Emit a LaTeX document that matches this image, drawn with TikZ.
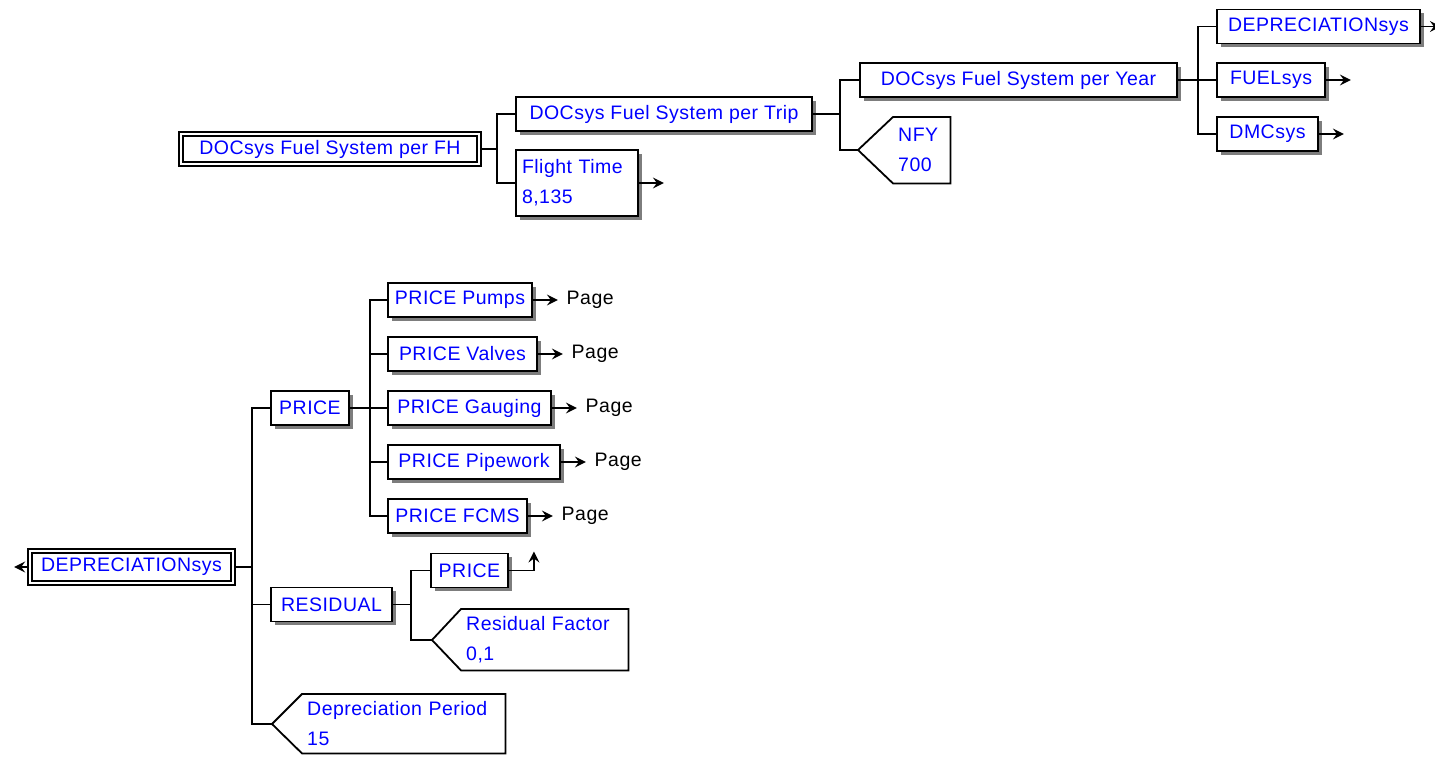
\documentclass[tikz,border=0pt]{standalone}
\usepackage{fontspec}
\setmainfont{Liberation Sans}[LetterSpace=2.5]
\usetikzlibrary{shadows,arrows.meta,calc}
\definecolor{tblue}{RGB}{0,0,255}
\definecolor{shd}{RGB}{125,125,125}
\pgfdeclarelayer{bg}
\pgfsetlayers{bg,main}
\tikzset{
  every node/.style={font=\fontsize{19.5}{30}\selectfont, text=tblue},
  box/.style={draw=black, line width=1.8pt, fill=white, minimum height=34, inner xsep=6pt, inner ysep=0pt,
    drop shadow={shadow xshift=3.5pt, shadow yshift=-3.5pt, fill=shd, opacity=1}},
  dbox/.style={draw=black, double=white, line width=1.7pt, double distance=2pt, fill=white, inner xsep=6pt, inner ysep=0pt},
  link/.style={line width=1.6pt, draw=black},
  tip/.style={link, -{Stealth[length=11pt, width=11pt, inset=4pt]}},
  pent/.style={inner xsep=5pt, inner ysep=0pt, align=left, anchor=north west},
  pg/.style={text=black, anchor=west, inner sep=0pt}
}
\newcommand{\pentshape}[2]{% node name, tip coordinate
  \begin{pgfonlayer}{bg}
    \fill[shd, shift={(3.5,3.5)}] (#1.north west) -- (#1.north east) -- (#1.south east) -- (#1.south west) -- (#2) -- cycle;
    \fill[white] (#1.north west) -- (#1.north east) -- (#1.south east) -- (#1.south west) -- (#2) -- cycle;
  \end{pgfonlayer}
  \draw[link, line width=1.8pt, line join=miter] (#1.north west) -- (#1.north east) -- (#1.south east) -- (#1.south west) -- (#2) -- cycle;
}
\begin{document}
\begin{tikzpicture}[x=1pt,y=-1pt]
\useasboundingbox (0,0) rectangle (1435,756);

% ---------- top tree ----------
\node[dbox, minimum width=298, minimum height=30] (root1) at (330,149) {DOCsys Fuel System per FH};
\node[box, minimum width=296] (trip) at (664,114) {DOCsys Fuel System per Trip};
\node[box, align=left, text width=110, minimum height=66] (ft) at (577,183) {Flight Time\\8,135};
\node[box, minimum width=317] (year) at (1018.5,80) {DOCsys Fuel System per Year};
\node[pent, text width=47, minimum height=66] (nfy) at (893,117) {NFY\\700};
\coordinate (nfyt) at (858,150);
\pentshape{nfy}{nfyt}
\node[box, minimum width=203] (dep1) at (1318.5,26.5) {DEPRECIATIONsys};
\node[box, minimum width=108] (fuel) at (1271,80) {FUELsys};
\node[box, minimum width=101] (dmc) at (1267.5,134) {DMCsys};

\draw[link] (root1.east) -- (497,149) coordinate (j1);
\draw[link] (j1) |- (trip.west);
\draw[link] (j1) |- (ft.west);
\draw[tip] (ft.east) -- ++(25,0);
\draw[link] (trip.east) -- (840,114) coordinate (j2);
\draw[link] (j2) |- (year.west);
\draw[link] (j2) |- (nfyt);
\draw[link] (year.east) -- (1198,80) coordinate (j3);
\draw[link] (j3) |- (dep1.west);
\draw[link] (j3) |- (fuel.west);
\draw[link] (j3) |- (dmc.west);
\draw[tip] (dep1.east) -- ++(20,0);
\draw[tip] (fuel.east) -- ++(25,0);
\draw[tip] (dmc.east) -- ++(25,0);

% ---------- bottom tree ----------
\node[dbox, minimum width=203, minimum height=32] (root2) at (131.5,567) {DEPRECIATIONsys};
\node[box, minimum width=78] (price1) at (310,408) {PRICE};
\node[box, minimum width=121] (resid) at (331.5,604.5) {RESIDUAL};
\node[pent, text width=193, minimum height=59] (dper) at (302,694) {Depreciation Period\\15};
\coordinate (dpert) at (272,724);
\pentshape{dper}{dpert}

\node[box, minimum width=144] (pumps) at (460,300) {PRICE Pumps};
\node[box, minimum width=149] (valves) at (462.5,354) {PRICE Valves};
\node[box, minimum width=163] (gaug) at (469.5,408) {PRICE Gauging};
\node[box, minimum width=172] (pipe) at (474,462) {PRICE Pipework};
\node[box, minimum width=139] (fcms) at (457.5,516) {PRICE FCMS};

\node[box, minimum width=77] (price2) at (469.5,570.5) {PRICE};
\node[pent, text width=157, minimum height=61] (rf) at (461,609) {Residual Factor\\0,1};
\coordinate (rft) at (432,640);
\pentshape{rf}{rft}

\draw[tip] (root2.west) -- ++(-15,0);
\draw[link] (root2.east) -- (252,567) coordinate (j4);
\draw[link] (j4) |- (price1.west);
\draw[link] (j4) |- (resid.west);
\draw[link] (j4) |- (dpert);

\draw[link] (price1.east) -- (370,408) coordinate (j5);
\foreach \n in {pumps,valves,gaug,pipe,fcms}{
  \draw[link] (j5) |- (\n.west);
  \draw[tip] (\n.east) -- ++(25,0) node[pg, xshift=8pt] {Page};
}

\draw[link] (resid.east) -- (411,604.5) coordinate (j6);
\draw[link] (j6) |- (price2.west);
\draw[link] (j6) |- (rft);
\draw[tip] (price2.east) -- ++(25,0) -- ++(0,-19);
\end{tikzpicture}
\end{document}
